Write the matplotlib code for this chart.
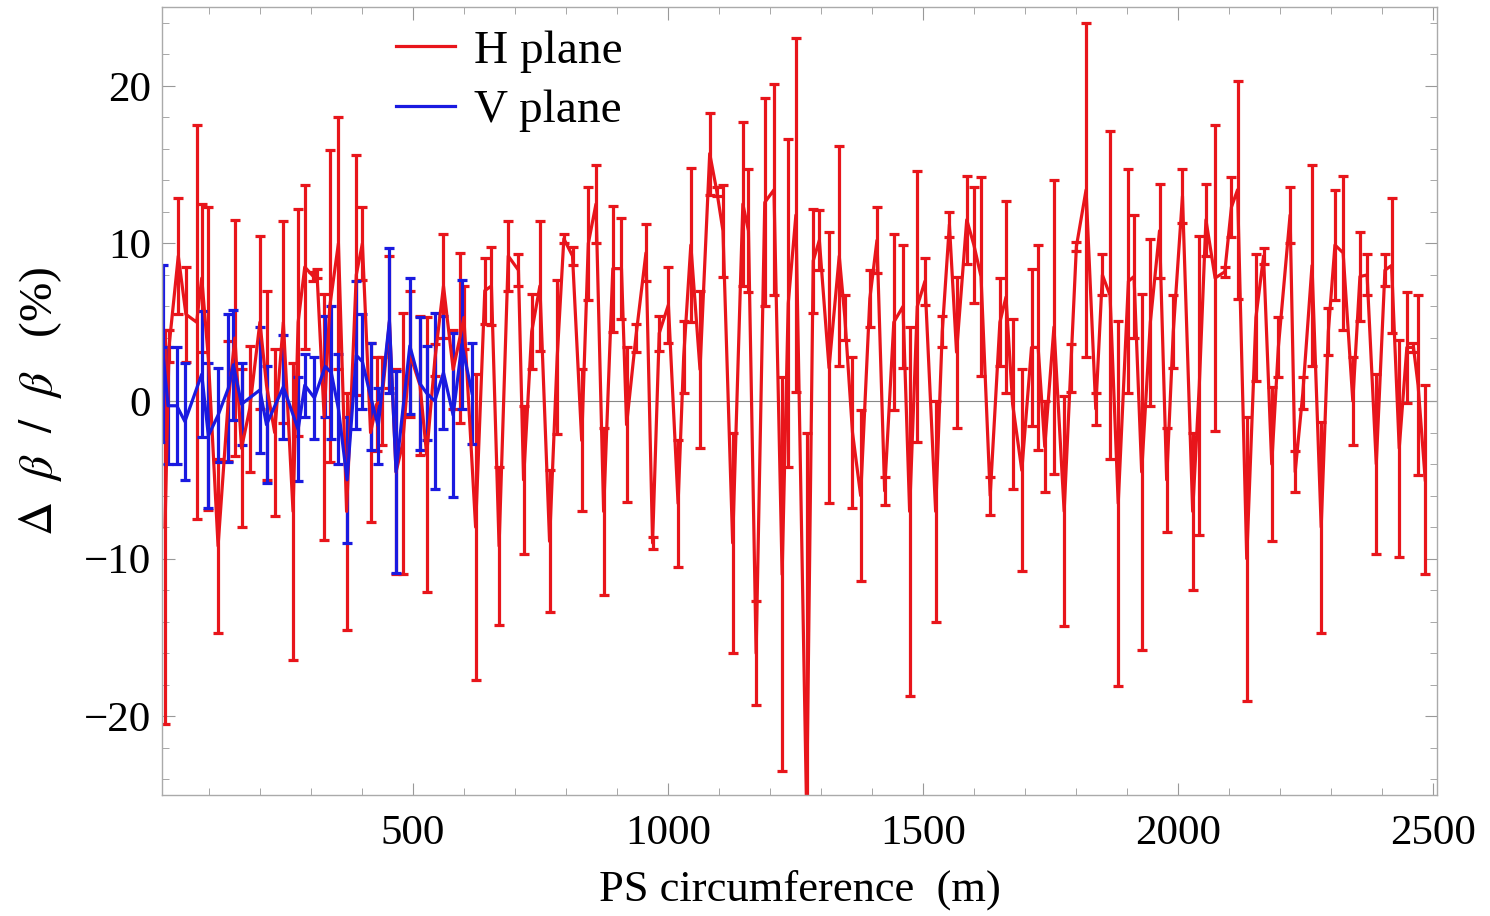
import matplotlib

matplotlib.use("Agg")
import matplotlib.pyplot as plt
from matplotlib.lines import Line2D
from matplotlib.ticker import MultipleLocator

plt.rcParams["font.family"] = ["Liberation Serif", "DejaVu Serif"]
plt.rcParams["mathtext.fontset"] = "stix"

# H plane: position (m), delta beta / beta (%), error (%)
h_pos = [14, 22, 40, 55, 76, 86, 99, 118, 138, 151, 164, 180, 200, 213, 229, 246,
         265, 275, 288, 305, 312, 326, 337, 354, 370, 389, 401, 417, 429, 439, 454,
         467, 480, 494, 514, 527, 543, 560, 579, 592, 600, 623, 641, 654, 669, 687,
         707, 717, 733, 749, 768, 783, 796, 813, 831, 844, 859, 874, 892, 909, 919,
         937, 957, 970, 983, 1001, 1020, 1031, 1045, 1063, 1082, 1096, 1108, 1127,
         1147, 1158, 1173, 1190, 1208, 1224, 1236, 1251, 1272, 1285, 1297, 1316,
         1336, 1347, 1362, 1378, 1396, 1410, 1425, 1443, 1461, 1474, 1489, 1504,
         1525, 1538, 1552, 1566, 1586, 1600, 1614, 1632, 1651, 1663, 1676, 1694,
         1713, 1726, 1739, 1757, 1777, 1790, 1801, 1820, 1839, 1852, 1867, 1883,
         1903, 1914, 1929, 1946, 1964, 1978, 1991, 2009, 2029, 2042, 2055, 2073,
         2092, 2105, 2117, 2135, 2153, 2168, 2184, 2197, 2220, 2230, 2245, 2263,
         2281, 2295, 2308, 2324, 2343, 2357, 2371, 2389, 2406, 2419, 2434, 2449,
         2462, 2471, 2485]
h_val = [-8, 3.5, 9.2, 5.5, 5, 7.8, 2.7, -9.2, 0, 4, -3, -0.5, 5, 1, -2, 5,
         -7, 5, 8.5, 7.9, 8.1, -1, 6, 10, -7, 8, 10, -2, -0.2, 0, 5,
         -4.5, -2.7, 3, 1, -3.4, 2.6, 7.3, 2, 4, 5.3, -8, 7, 7.3, -9.2, 9.2,
         8.3, -5, 4.4, 7.3, -8.9, 2.8, 10.3, 9.2, -2.5, 10, 12.5, -7, 8.4, 8.4, -1.5,
         4, 9.4, -9, 4.3, 6.1, -6.5, 2.8, 9.9, 2, 15.7, 13.3, 10.8, -9,
         12.5, 10.8, -16, 12.6, 13.4, -11, 6.2, 11.8, -26, 8.9, 10.2, 2.1,
         9.2, 5.3, -2, -6, 6.5, 10.2, -5.7, 5, 6, -7, 6, 7.6,
         -7, 4.4, 11.2, 3.1, 11.5, 9.9, 7.9, -6, 5, 6.6, -0.2, -4.4,
         3.4, 3.4, -2.9, 4.7, -7, 2.1, 9.8, 13.4, -0.5, 8, 6.7, -6.5,
         7.6, 7.9, -4.5, 5, 10.8, -5, 4.4, 13, -7, 1, 11.5, 7.8,
         8.2, 12.3, 13.4, -10, 5.3, 9.2, -4, 3.4, 11.8, -4.5, 0.5, 8.6,
         -8, 4.4, 9.9, 9.4, 0, 7.9, 8, -4, 8.3, 8.6, -3, 3.4,
         3.4, 1, -5]
h_err = [12.5, 1, 3.7, 3, 12.5, 4.7, 9.6, 5.5, 3.8, 7.5, 5, 4, 5.5, 6, 5.3, 6.4,
         9.4, 7.2, 5.2, 0.3, 0.3, 7.8, 9.9, 8, 7.5, 7.6, 2.3, 5.7, 3, 2.8, 4.2,
         6.5, 8.3, 4, 4.4, 8.7, 1, 3.3, 2.5, 5.4, 2, 9.7, 2.1, 2.5, 5, 2.2,
         1, 4.7, 2.4, 4.1, 4.5, 4.9, 0.3, 0.6, 4.5, 3.6, 2.5, 5.3, 4, 3.2, 4.9,
         0.9, 1.8, 0.4, 1.1, 2.4, 4, 2.3, 4.9, 5, 2.6, 0.3, 2.9, 7,
         5.2, 3.9, 3.3, 6.6, 6.7, 12.5, 10.4, 11.2, 24, 3.3, 1.9, 8.6,
         7, 1.4, 4.8, 5.4, 1.8, 2.1, 0.9, 5.6, 3.9, 11.7, 8.6, 1.5,
         7, 1, 0.8, 4.8, 2.8, 3.7, 6.3, 1.2, 2.8, 6.1, 5.4, 6.4,
         5, 6.5, 2.9, 9.3, 7.3, 1.5, 0.3, 10.6, 1, 1.3, 10.4, 11.6,
         7.1, 3.9, 11.3, 5.3, 3, 3.3, 2.3, 1.7, 5, 9.5, 2.3, 9.7,
         0.3, 1.9, 6.9, 9, 4, 0.5, 4.9, 1.9, 1.8, 1.3, 1, 6.4,
         6.7, 1.5, 3.5, 4.9, 2.8, 2.8, 1.3, 5.7, 1, 4.3, 6.9, 3.5,
         0.3, 5.7, 6]

# V plane
v_pos = [10, 20, 37, 53, 86, 99, 118, 138, 148, 164, 200, 213, 246, 275, 288,
         307, 328, 340, 354, 371, 389, 401, 417, 432, 454, 467, 494, 514, 527,
         543, 560, 579, 596, 616]
v_val = [3, -0.3, -0.3, -1.3, 1.7, -2.2, -0.9, 0.8, 2.3, -0.2, 0.7, -1.5, 0.9,
         -1.8, 1, 0.2, 2.2, 1.8, -0.5, -5, 2.9, 2.5, 0.3, -1.6, 5.1, -4.5, 3.5,
         1.1, 0.5, 0, 1.8, -0.9, 3.6, 0.5]
v_err = [5.6, 3.7, 3.7, 3.7, 4, 4.6, 3, 4.7, 3.5, 2.6, 4, 3.7, 3.3, 3.3, 2,
         2.6, 3.2, 4.2, 3.5, 4, 4.7, 3, 3.4, 2.4, 4.6, 6.4, 4.3, 4.2, 3, 5.6,
         3.6, 5.2, 4.1, 3.2]

fig = plt.figure(figsize=(14.9, 9.16), dpi=100)
ax = fig.add_axes([0.1087, 0.132, 0.8557, 0.8604])

red = "#e8151b"
blue = "#1a1ae0"
ax.axhline(0, color="#888888", lw=0.8, zorder=0)
ax.errorbar(h_pos, h_val, yerr=h_err, color=red, lw=2.3, elinewidth=2.3,
            capsize=3.5, capthick=2.3)
ax.errorbar(v_pos, v_val, yerr=v_err, color=blue, lw=2.3, elinewidth=2.3,
            capsize=3.5, capthick=2.3)

ax.set_xlim(8, 2508)
ax.set_ylim(-25, 25)
ax.xaxis.set_minor_locator(MultipleLocator(100))
ax.yaxis.set_minor_locator(MultipleLocator(2))
ax.set_xticks([500, 1000, 1500, 2000, 2500])
ax.set_yticks([-20, -10, 0, 10, 20])
ax.set_yticklabels(["\u221220", "\u221210", "0", "10", "20"])
ax.tick_params(which="both", direction="in", top=True, right=True,
               color="#999999", labelsize=31)
ax.tick_params(axis="x", pad=14)
ax.tick_params(axis="y", pad=8)
ax.tick_params(which="major", length=9, width=0.8)
ax.tick_params(which="minor", length=5, width=0.6)
for s in ax.spines.values():
    s.set_color("#aaaaaa")
    s.set_linewidth(1.0)

ax.set_xlabel("PS circumference  (m)", fontsize=32, labelpad=12)
ax.set_ylabel(r"$\Delta\ \ \beta\ \ /\ \ \beta$   (%)", fontsize=34, labelpad=14)

handles = [Line2D([], [], color=red, lw=2.3), Line2D([], [], color=blue, lw=2.3)]
ax.legend(handles, ["H plane", "V plane"], loc="upper left",
          bbox_to_anchor=(0.15, 1.025), frameon=False, fontsize=34,
          handlelength=1.25, handletextpad=0.4, labelspacing=0.35)

fig.savefig("out.png", dpi=100)
